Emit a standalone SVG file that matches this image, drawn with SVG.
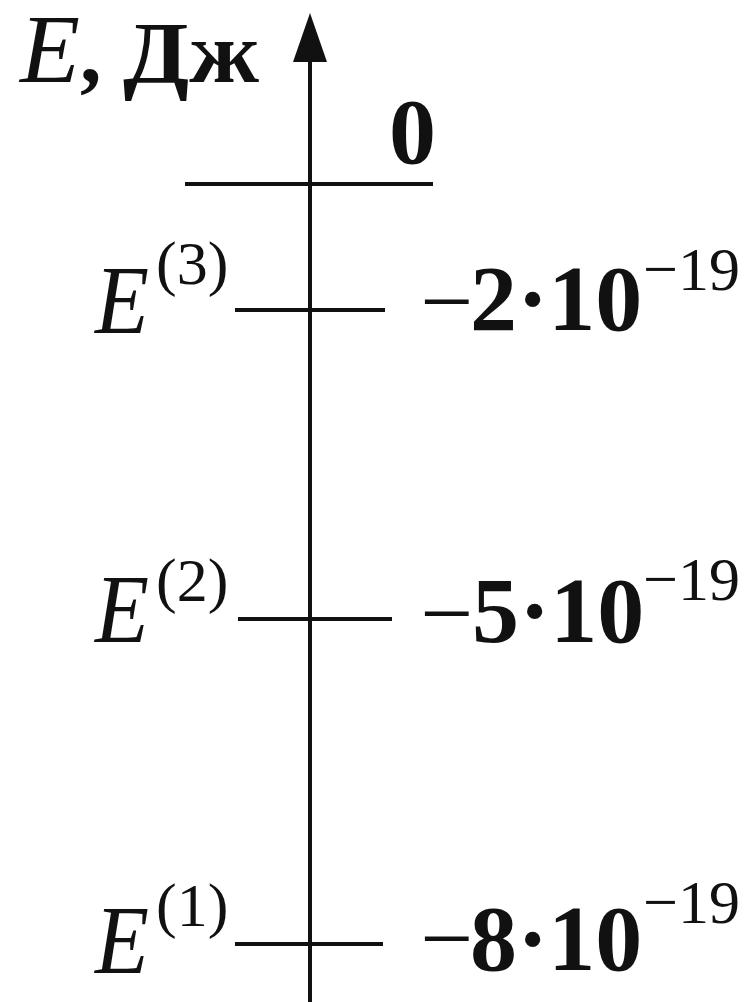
<svg xmlns="http://www.w3.org/2000/svg" width="756" height="1002" viewBox="0 0 756 1002">
<style>
.ax{stroke:#111;stroke-width:4;fill:none}
.lv{stroke:#111;stroke-width:4;fill:none}
.it{font-family:"Liberation Serif","Times New Roman",serif;font-style:italic;font-weight:normal;font-size:97px;fill:#111}
.sup{font-family:"Liberation Serif","Times New Roman",serif;font-size:62px;fill:#111}
.num{font-family:"Liberation Serif","Times New Roman",serif;font-weight:bold;font-size:94px;fill:#111}
.mn{font-family:"Liberation Serif","Times New Roman",serif;font-size:94px;fill:#111}
.unit{font-family:"Liberation Serif","Times New Roman",serif;font-weight:bold;font-size:86px;fill:#111}
</style>
<rect width="756" height="1002" fill="#fff"/>
<g id="axis">
<line class="ax" x1="310" y1="58" x2="310" y2="1002"/>
<polygon points="310,13 293,62 327,62" fill="#111"/>
<text class="it" x="20" y="82" font-size="84" textLength="60" lengthAdjust="spacingAndGlyphs">E</text>
<text class="unit" x="80" y="82">,</text>
<text class="unit" x="123" y="82" textLength="136" lengthAdjust="spacingAndGlyphs">Дж</text>
</g>
<g id="connectors">
<line class="lv" x1="185" y1="184" x2="433" y2="184"/>
<line class="lv" x1="235" y1="310" x2="385" y2="310"/>
<line class="lv" x1="238" y1="619" x2="392" y2="619"/>
<line class="lv" x1="235" y1="944" x2="383" y2="944"/>
</g>
<g id="level0">
<text class="num" x="389" y="163" font-size="90">0</text>
</g>
<g id="level3">
<text class="it" x="95" y="333" textLength="54" lengthAdjust="spacingAndGlyphs">E</text>
<text class="sup" x="156" y="284">(3)</text>
<text class="mn" x="420" y="333">−</text>
<text class="num" x="470" y="330">2·10</text>
<text class="sup" x="643" y="290">−19</text>
</g>
<g id="level2">
<text class="it" x="95" y="642" textLength="54" lengthAdjust="spacingAndGlyphs">E</text>
<text class="sup" x="156" y="601">(2)</text>
<text class="mn" x="420" y="645">−</text>
<text class="num" x="472" y="642">5·10</text>
<text class="sup" x="643" y="600">−19</text>
</g>
<g id="level1">
<text class="it" x="95" y="973" textLength="54" lengthAdjust="spacingAndGlyphs">E</text>
<text class="sup" x="156" y="926">(1)</text>
<text class="mn" x="420" y="970">−</text>
<text class="num" x="470" y="970">8·10</text>
<text class="sup" x="643" y="923">−19</text>
</g>
</svg>
